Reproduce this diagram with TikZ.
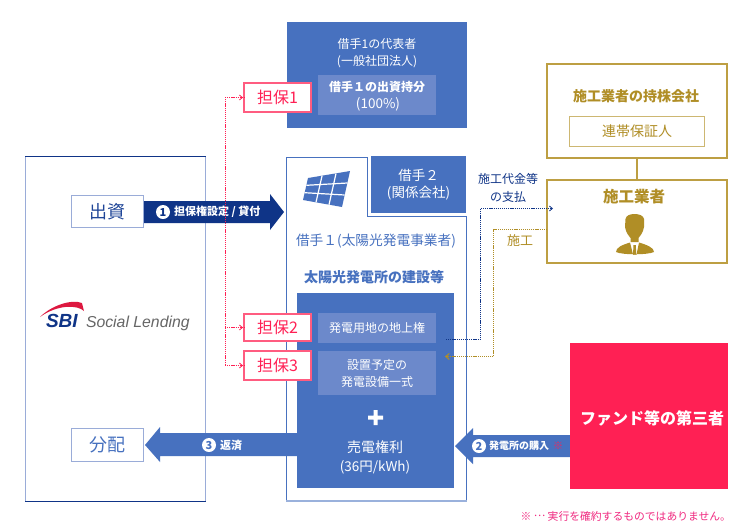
\documentclass[tikz,border=0pt]{standalone}
\usepackage{fontspec}
\setmainfont{Noto Sans CJK JP}
\newfontfamily\logofont{Liberation Sans}
\usetikzlibrary{arrows.meta,calc}
\definecolor{cblue}{HTML}{4771BF}
\definecolor{cinner}{HTML}{6C89CB}
\definecolor{cnavy}{HTML}{0F3487}
\definecolor{cside}{HTML}{9AACD8}
\definecolor{cgold}{HTML}{BD9F43}
\definecolor{ctext}{HTML}{B08E26}
\definecolor{cred}{HTML}{FF2054}
\definecolor{cpinkb}{HTML}{FF5C80}
\definecolor{cnote}{HTML}{F0287F}
\newcommand{\fs}[1]{\fontsize{#1}{#1}\selectfont}
\tikzset{
  x=1pt,y=-1pt,
  base/.style={inner sep=0pt,outer sep=0pt,align=center},
  white text/.style={base,text=white},
  side box/.style={base,draw=cside,fill=white,line width=1.3pt},
  pledge/.style={base,draw=cpinkb,fill=white,line width=2pt,text=cred,font=\fs{16}},
  inner panel/.style={base,fill=cinner,text=white,font=\fs{12}},
  gold big/.style={base,draw=cgold,fill=white,line width=1.8pt},
  num/.style={base,circle,fill=white,minimum size=14pt,font=\bfseries\fs{11}},
  dots/.style={line width=1.2pt,dash pattern=on 1.2pt off .9pt},
  pink tip/.style={-{Straight Barb[length=3pt,width=5pt,line width=.8pt]}},
}
\newcommand{\bx}[7][]{\node[#1,minimum width={(#4)-(#2)},minimum height={(#5)-(#3)}] (#6) at ({((#2)+(#4))/2},{((#3)+(#5))/2}) {#7};}
\begin{document}
\begin{tikzpicture}
\useasboundingbox (0,0) rectangle (749,531);
\fill[white] (0,0) rectangle (749,531);

% lender box
\bx[base,draw=cside,line width=1.3pt]{25.5}{156.5}{205.5}{501.5}{lender}{}
\draw[cnavy,line width=.8pt] (25,156.5) -- (206,156.5) (25,501.5) -- (206,501.5);

% SBI logo
\fill[cred!85!black!90!red] (40,317) .. controls (52,305) and (72,299) .. (82,303) -- (84,311) .. controls (78,305) and (58,304) .. (40,317) -- cycle;
\node[base,anchor=base west,text=cnavy,font=\logofont\bfseries\itshape\fs{19}] (sbi) at (46,327) {SBI};
\node[base,anchor=base west,text=black!60,font=\logofont\itshape\fs{15.8}] (social) at (86,327) {Social Lending};

% top borrower box
\bx[base,fill=cblue]{287}{22}{467}{128}{rep}{}
\node[white text,font=\fs{12}] (reptitle) at (377,44) {借手1の代表者};
\node[white text,font=\fs{12}] (repsub) at (377,62) {(一般社団法人)};
\bx[inner panel]{318}{75}{436}{115}{share}{}
\node[white text,font=\bfseries\fs{12}] (sharea) at (377,87) {借手１の出資持分};
\node[white text,font=\fs{13.5}] (shareb) at (378,104) {(100\%)};

% main borrower outline
\bx[base]{286}{157}{466}{501}{main}{}
\fill[white] (286.5,157.5) -- (367.5,157.5) -- (367.5,216.5) -- (466.5,216.5) -- (466.5,501) -- (286.5,501) -- cycle;
\draw[cblue,line width=1pt] (286.5,501) -- (286.5,157.5) -- (367.5,157.5) -- (367.5,216.5) -- (466.5,216.5) -- (466.5,501);
\draw[cblue!55!white,line width=1.6pt] (286,501) -- (467,501);
\bx[base,fill=cblue,text=white,font=\fs{13.5}]{371}{156}{466}{213}{b2}{借手２\\[4pt](関係会社)}

% solar panel icon
\fill[cblue] (308,178) -- (350,171) -- (342,207) -- (303,200) -- cycle;
\draw[white,line width=1.2pt] (322,176) -- (316,202.3) (336,173.5) -- (329,204.7)
  (306.3,185.3) -- (347.3,183) (304.7,192.7) -- (344.7,195);

\node[base,text=cblue,font=\fs{13.7}] (maintitle) at (376,241) {借手１(太陽光発電事業者)};
\node[base,text=cblue,font=\bfseries\fs{14}] (build) at (374,277) {太陽光発電所の建設等};

% arrows
\coordinate (tipA) at (284,212);
\fill[cnavy] (144,201) -- (270,201) -- (270,194) -- (tipA) -- (270,230) -- (270,223) -- (144,223) -- cycle;
\coordinate (tipC) at (145,445);
\fill[cblue] (297,433) -- (160,433) -- (160,427) -- (tipC) -- (160,462) -- (160,456) -- (297,456) -- cycle;
\coordinate (tipB) at (455,446);
\fill[cblue] (570,435) -- (473,435) -- (473,428) -- (tipB) -- (473,464) -- (473,457) -- (570,457) -- cycle;

% blue panel
\bx[base,fill=cblue]{297}{293}{454}{488}{panel}{}
\bx[inner panel]{318}{313}{436}{343}{land}{発電用地の地上権}
\bx[inner panel]{318}{351}{436}{395}{equip}{設置予定の\\[5pt]発電設備一式}
\fill[white] (373.5,410) rectangle (377.5,425) (368,415.5) rectangle (383,419.5);
\node[white text,font=\fs{14}] (sell) at (375,447) {売電権利};
\node[white text,font=\fs{13.5}] (price) at (375,467) {(36円/kWh)};

% left boxes
\bx[side box,text=cnavy!70!cblue,font=\fs{18}]{71.5}{195.5}{143.5}{227.5}{invest}{出資}
\bx[side box,text=cblue,font=\fs{18}]{71.5}{428.5}{143.5}{461.5}{dist}{分配}

% arrow labels
\node[num,text=cnavy] (n1) at (163,212) {1};
\node[base,anchor=west,text=white,font=\bfseries\fs{11}] (t1) at (174,212) {担保権設定 / 貸付};
\node[num,text=cblue] (n3) at (209,445) {3};
\node[base,anchor=west,text=white,font=\bfseries\fs{11}] (t3) at (220,445) {返済};
\node[num,text=cblue] (n2) at (479,446) {2};
\node[base,anchor=west,text=white,font=\bfseries\fs{10}] (t2) at (489,446) {発電所の購入};
\node[base,anchor=west,text=cred,font=\bfseries\fs{10}] (t2m) at (553,446) {※};

% third party
\bx[base,fill=cred]{570}{343}{728}{489}{fund}{}
\node[base,text=white,font=\bfseries\fs{16}] (fundt) at (652,418) {ファンド等の第三者};
\node[base,anchor=east,text=cnote,font=\fs{10.8}] (note) at (731,516) {※ \raisebox{.3em}{…} 実行を確約するものではありません。};

% pledges
\bx[pledge]{244}{83}{311}{112}{p1}{担保1}
\bx[pledge]{244}{314}{311}{341}{p2}{担保2}
\bx[pledge]{244}{351}{311}{380}{p3}{担保3}
\coordinate (spine) at (225.5,97);
\draw[cred,dots] (225,97.5) -- (p1.west);
\draw[cred,dots] (225,327.5) -- (p2.west);
\draw[cred,dots] (225,365.5) -- (p3.west);
\draw[cred,dots] (spine) -- (spine |- p3.west);
\foreach \p in {p1,p2,p3}{\draw[cred,pink tip,line width=.8pt] ($(\p.west)+(-4,0)$) -- ($(\p.west)+(-1,0)$);}

% contractor boxes
\bx[gold big]{547}{64}{727}{158}{holding}{}
\bx[gold big]{547}{180}{727}{263}{contractor}{}
\draw[cgold,line width=2.6pt] (holding.south -| 637,0) -- (contractor.north -| 637,0);
\node[base,text=ctext,font=\bfseries\fs{14}] (holdt) at (636,96) {施工業者の持株会社};
\bx[base,draw=cgold!75!white,line width=1pt,text=ctext,font=\fs{14}]{569.5}{116.5}{704.5}{146.5}{guar}{連帯保証人}
\node[base,text=ctext,font=\bfseries\fs{15.5}] (contt) at (634,197) {施工業者};

% person icon
\fill[ctext] (625.5,219) .. controls (626,215.5) and (630,214) .. (634.5,214) .. controls (639,214) and (643.5,215.5) .. (644,219) -- (644,227) .. controls (643,233) and (640,236) .. (638.5,238) -- (638.5,242) -- (630.5,242) -- (630.5,238) .. controls (629,236) and (626,233) .. (625,227) -- cycle;
\fill[ctext] (616,252) .. controls (616,247.5) and (622,245) .. (630,242.5) -- (633,254.5) -- (636.5,254.5) -- (639,242.5) .. controls (647,245) and (654,247.5) .. (654,252) .. controls (648,255) and (622,255) .. (616,252) -- cycle;
\fill[ctext] (633.5,245) -- (635.8,245) -- (636.3,254.5) -- (633,254.5) -- cycle;

% payment and construction flows
\node[base,text=cnavy,font=\fs{12}] (pay1) at (508,179) {施工代金等};
\node[base,text=cnavy,font=\fs{12}] (pay2) at (508,197) {の支払};
\node[base,text=ctext,font=\fs{13}] (work) at (520,241) {施工};
\coordinate (payS) at (446,339.5);
\coordinate (payE) at (552,208.5);
\draw[cnavy,dots] (payS) -| (480.5,208.5) -- (payE);
\draw[cnavy,{Straight Barb[length=3pt,width=5pt,line width=.8pt]}-,line width=.8pt] (553,208.5) -- (550,208.5);
\coordinate (workE) at (445,356.5);
\draw[ctext,dots] (547,229.5) -| (493.5,356.5) -- (workE);
\draw[ctext,{Straight Barb[length=3.5pt,width=6pt,line width=1pt]}-,line width=1pt] (workE) -- ($(workE)+(4,0)$);
\end{tikzpicture}
\end{document}
